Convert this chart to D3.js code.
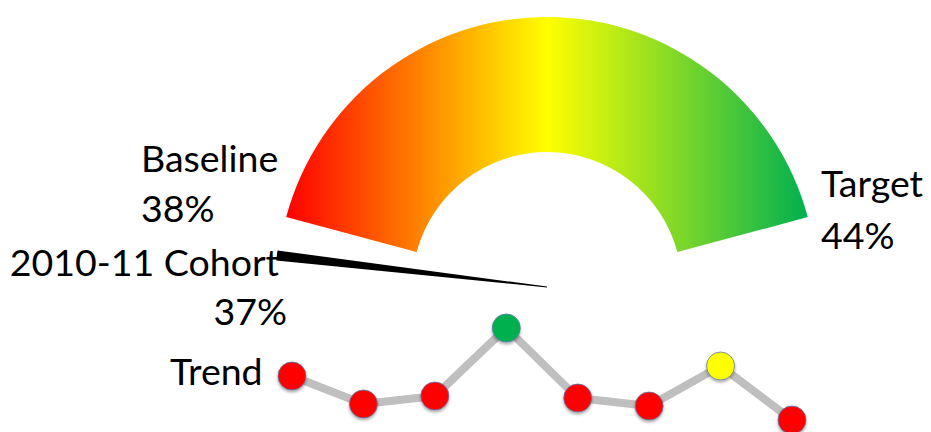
<!DOCTYPE html>
<html>
<head>
<meta charset="utf-8">
<script src="https://cdn.jsdelivr.net/npm/d3@7"></script>
<style>
  html, body { margin: 0; padding: 0; background: #ffffff; }
  svg { display: block; }
  text { font-family: Lato, "Open Sans", sans-serif; fill: #000; }
</style>
</head>
<body>
<svg id="chart" width="931" height="432"></svg>
<script>
// ---- data ----
const baselineLabel = ["Baseline", "38%"];
const targetLabel = ["Target", "44%"];
const cohortLabel = ["2010-11 Cohort", "37%"];
const baselineValue = 38;
const targetValue = 44;
const cohortValue = 37;
const gaugeDomain = [38, 56];          // value range covered by the gauge arc
const gaugeStops = ["#ff0000", "#ffff00", "#00b050"];
const trendValues = [39.2, 37.8, 38.2, 41.6, 38.1, 37.7, 39.7, 37.0];
const trendColors = ["#ff0000", "#ff0000", "#ff0000", "#00b050", "#ff0000", "#ff0000", "#ffff00", "#ff0000"];

// ---- layout ----
const svg = d3.select("#chart");
const cx = 547, cy = 287;
const rOuter = 270, rInner = 135;
const halfSpan = 75 * Math.PI / 180;

const defs = svg.append("defs");
const grad = defs.append("linearGradient")
  .attr("id", "gaugeGrad")
  .attr("gradientUnits", "userSpaceOnUse")
  .attr("x1", -rOuter * Math.sin(halfSpan)).attr("x2", rOuter * Math.sin(halfSpan))
  .attr("y1", 0).attr("y2", 0);
grad.selectAll("stop").data(gaugeStops).join("stop")
  .attr("offset", (d, i) => i / (gaugeStops.length - 1))
  .attr("stop-color", d => d);

const shadow = defs.append("filter").attr("id", "dotShadow")
  .attr("x", "-50%").attr("y", "-50%").attr("width", "200%").attr("height", "200%");
shadow.append("feDropShadow").attr("dx", 0).attr("dy", 2).attr("stdDeviation", 1.5)
  .attr("flood-color", "#000").attr("flood-opacity", 0.35);

// gauge arc
const arc = d3.arc()
  .innerRadius(rInner).outerRadius(rOuter)
  .startAngle(-halfSpan).endAngle(halfSpan);
svg.append("path")
  .attr("d", arc())
  .attr("transform", `translate(${cx},${cy})`)
  .attr("fill", "url(#gaugeGrad)");

// needle
const angle = d3.scaleLinear().domain(gaugeDomain).range([-75, 75]);
svg.append("path")
  .attr("transform", `translate(${cx},${cy}) rotate(${angle(cohortValue)})`)
  .attr("d", `M -5,${-rOuter - 2} L 5,${-rOuter - 2} L 0.4,0 L -0.4,0 Z`)
  .attr("fill", "#000");

// labels
const fs = 37.5;
function label(lines, x, ys, anchor) {
  lines.forEach((t, i) => {
    svg.append("text")
      .attr("x", Array.isArray(x) ? x[i] : x)
      .attr("y", ys[i])
      .attr("text-anchor", anchor)
      .attr("font-size", fs)
      .text(t);
  });
}
label(baselineLabel, 141, [172, 222], "start");
label(targetLabel, 821, [197, 249], "start");
label(cohortLabel, [279, 287], [276, 325], "end");

// trend
const x = d3.scalePoint().domain(d3.range(trendValues.length)).range([292, 792]);
const y = d3.scaleLinear().domain([37, 42]).range([420, 320]);

svg.append("text")
  .attr("x", 170).attr("y", 385)
  .attr("font-size", fs)
  .text("Trend");

svg.append("path")
  .datum(trendValues)
  .attr("d", d3.line().x((d, i) => x(i)).y(d => y(d)))
  .attr("fill", "none")
  .attr("stroke", "#bfbfbf")
  .attr("stroke-width", 8)
  .attr("stroke-linejoin", "round");

svg.selectAll("circle.pt").data(trendValues).join("circle")
  .attr("class", "pt")
  .attr("cx", (d, i) => x(i))
  .attr("cy", d => y(d))
  .attr("r", 14)
  .attr("fill", (d, i) => trendColors[i])
  .attr("stroke", "#5a7bb0")
  .attr("stroke-width", 0.8)
  .attr("filter", "url(#dotShadow)");
</script>
</body>
</html>
